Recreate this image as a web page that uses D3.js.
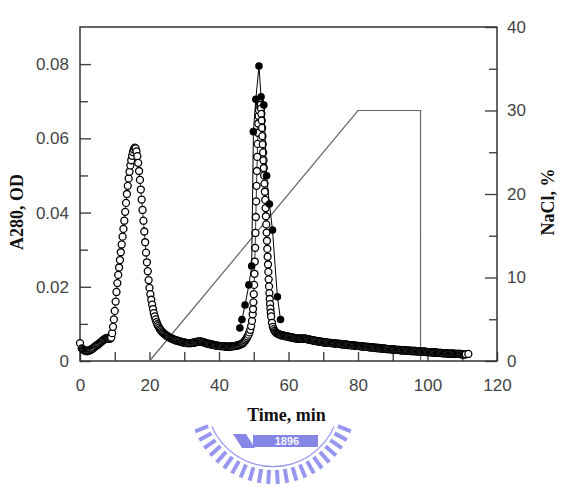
<!DOCTYPE html>
<html>
<head>
<meta charset="utf-8">
<script src="https://cdn.jsdelivr.net/npm/d3@7"></script>
<style>
  body { margin: 0; background: #fff; }
  svg { display: block; }
</style>
</head>
<body>
<div id="chart"></div>
<script>
// A280 trace (open circles), [time min, A280 OD]
const openPoints = [
  [0,.0048],[0.5,.0034],[0.75,.0032],[1,.0030],[1.25,.0029],[1.5,.0028],[1.75,.0027],[2,.0027],[2.25,.0027],[2.5,.0028],
  [2.75,.0029],[3,.0030],[3.25,.0031],[3.5,.0033],[3.75,.0034],[4,.0036],[4.25,.0038],[4.5,.0040],[4.75,.0042],[5,.0043],
  [5.25,.0045],[5.5,.0047],[5.75,.0049],[6,.0051],[6.25,.0053],[6.5,.0055],[6.75,.0057],[7,.0058],[7.25,.0060],[7.5,.0061],
  [7.75,.0062],[8,.0062],[8.25,.0061],[8.5,.0060],[8.75,.0061],[9,.0063],
  [9.25,.0075],[9.5,.0092],[9.75,.0112],[10,.0135],[10.25,.0160],[10.5,.0186],[10.75,.0210],[11,.0232],[11.25,.0252],
  [11.5,.0272],[11.75,.0293],[12,.0314],[12.25,.0335],[12.5,.0356],[12.75,.0378],[13,.0402],[13.25,.0426],[13.5,.0450],
  [13.75,.0472],[14,.0492],[14.25,.0510],[14.5,.0527],[14.75,.0541],[15,.0553],[15.25,.0563],[15.5,.0570],[15.75,.0575],
  [16,.0573],[16.25,.0565],[16.5,.0552],[16.75,.0534],[17,.0512],[17.25,.0488],[17.5,.0462],[17.75,.0435],[18,.0407],
  [18.25,.0378],[18.5,.0349],[18.75,.0320],[19,.0292],[19.25,.0266],[19.5,.0242],[19.75,.0218],[20,.0197],[20.25,.0180],
  [20.5,.0165],[20.75,.0152],[21,.0140],[21.25,.0129],[21.5,.0120],[21.75,.0112],[22,.0105],[22.25,.0099],[22.5,.0094],
  [22.75,.0090],[23,.0086],[23.25,.0083],[23.5,.0080],[23.75,.0077],[24,.0075],
  [24.25,.0073],[24.5,.0071],[24.75,.0069],[25,.0068],[25.25,.0066],[25.5,.0065],[25.75,.0063],[26,.0062],[26.25,.0061],
  [26.5,.0060],[26.75,.0059],[27,.0058],[27.25,.0057],[27.5,.0056],[27.75,.0055],[28,.0055],[28.25,.0054],[28.5,.0053],
  [28.75,.0053],[29,.0052],[29.25,.0051],[29.5,.0051],[29.75,.0050],[30,.0050],[30.25,.0049],[30.5,.0049],[30.75,.0048],
  [31,.0048],[31.25,.0048],[31.5,.0048],[31.75,.0048],[32,.0048],[32.25,.0049],[32.5,.0049],[32.75,.0050],[33,.0050],
  [33.25,.0051],[33.5,.0051],[33.75,.0052],[34,.0052],[34.25,.0053],[34.5,.0053],[34.75,.0052],[35,.0052],[35.25,.0051],
  [35.5,.0051],[35.75,.0050],[36,.0049],[36.25,.0048],[36.5,.0047],[36.75,.0047],[37,.0046],[37.25,.0046],[37.5,.0045],
  [37.75,.0045],[38,.0044],[38.25,.0044],[38.5,.0043],[38.75,.0043],[39,.0042],[39.25,.0042],[39.5,.0041],[39.75,.0041],
  [40,.0041],[40.25,.0040],[40.5,.0040],[40.75,.0040],[41,.0040],[41.25,.0040],[41.5,.0040],[41.75,.0039],[42,.0039],
  [42.25,.0039],[42.5,.0039],[42.75,.0039],[43,.0039],[43.25,.0039],[43.5,.0039],[43.75,.0040],[44,.0040],[44.25,.0040],
  [44.5,.0040],[44.75,.0041],[45,.0041],[45.25,.0042],[45.5,.0042],[45.75,.0043],[46,.0044],[46.25,.0045],[46.5,.0046],
  [46.75,.0047],[47,.0049],
  [47.25,.0052],[47.5,.0055],[47.75,.0058],[48,.0062],[48.25,.0066],[48.5,.0071],[48.75,.0077],[49,.0084],[49.25,.0094],
  [49.5,.0108],[49.7,.0126],[49.8,.0140],[49.9,.0158],[50,.0180],[50.1,.0205],[50.2,.0235],[50.3,.0268],[50.4,.0305],
  [50.5,.0345],[50.6,.0388],[50.7,.0430],[50.8,.0472],[50.9,.0512],[51,.0550],[51.1,.0585],[51.2,.0615],[51.3,.0640],
  [51.4,.0660],[51.5,.0676],[51.6,.0688],[51.7,.0695],[51.8,.0698],[51.9,.0696],[52,.0690],[52.1,.0680],[52.2,.0666],
  [52.3,.0648],[52.4,.0628],[52.5,.0606],[52.6,.0584],[52.7,.0562],[52.8,.0541],[52.9,.0520],[53,.0500],[53.1,.0478],
  [53.2,.0456],[53.3,.0434],[53.4,.0412],[53.5,.0390],[53.6,.0368],[53.7,.0346],[53.8,.0324],[53.9,.0302],[54,.0281],
  [54.1,.0260],[54.2,.0240],[54.3,.0220],[54.4,.0201],[54.5,.0183],[54.6,.0167],[54.7,.0153],[54.8,.0141],[54.9,.0130],
  [55,.0120],[55.25,.0103],[55.5,.0092],[55.75,.0086],[56,.0081],[56.25,.0078],[56.5,.0076],[56.75,.0074],[57,.0073],
  [57.25,.0072],[57.5,.0071],[57.75,.0070],[58,.0069],
  [58.25,.0069],[58.5,.0068],[58.75,.0068],[59,.0067],[59.25,.0067],[59.5,.0066],[59.75,.0066],[60,.0065],[60.25,.0065],
  [60.5,.0064],[60.75,.0064],[61,.0063],[61.25,.0063],[61.5,.0062],[61.75,.0062],[62,.0061],[62.25,.0061],[62.5,.0061],
  [62.75,.0060],[63,.0060],[63.25,.0060],[63.5,.0060],[63.75,.0060],[64,.0060],[64.25,.0060],[64.5,.0060],[64.75,.0060],
  [65,.0060],[65.25,.0059],[65.5,.0059],[65.75,.0058],[66,.0058],[66.25,.0057],[66.5,.0057],[66.75,.0056],[67,.0056],
  [67.25,.0055],[67.5,.0055],[67.75,.0054],[68,.0054],[68.25,.0053],[68.5,.0053],[68.75,.0053],[69,.0052],[69.25,.0052],
  [69.5,.0052],[69.75,.0051],[70,.0051],[70.25,.0050],[70.5,.0050],[70.75,.0050],[71,.0050],[71.25,.0049],[71.5,.0049],
  [71.75,.0049],[72,.0049],[72.25,.0048],[72.5,.0048],[72.75,.0048],[73,.0048],[73.25,.0047],[73.5,.0047],[73.75,.0047],
  [74,.0047],[74.25,.0046],[74.5,.0046],[74.75,.0046],[75,.0046],[75.25,.0045],[75.5,.0045],[75.75,.0045],[76,.0045],
  [76.25,.0044],[76.5,.0044],[76.75,.0044],[77,.0044],[77.25,.0043],[77.5,.0043],[77.75,.0043],[78,.0043],[78.25,.0042],
  [78.5,.0042],[78.75,.0042],[79,.0042],[79.25,.0041],[79.5,.0041],[79.75,.0041],[80,.0041],[80.25,.0040],[80.5,.0040],
  [80.75,.0040],[81,.0040],[81.25,.0039],[81.5,.0039],[81.75,.0039],[82,.0039],[82.25,.0038],[82.5,.0038],[82.75,.0038],
  [83,.0038],[83.25,.0037],[83.5,.0037],[83.75,.0037],[84,.0037],[84.25,.0036],[84.5,.0036],[84.75,.0036],[85,.0036],
  [85.25,.0035],[85.5,.0035],[85.75,.0035],[86,.0035],[86.25,.0034],[86.5,.0034],[86.75,.0034],[87,.0034],[87.25,.0033],
  [87.5,.0033],[87.75,.0033],[88,.0033],[88.25,.0032],[88.5,.0032],[88.75,.0032],[89,.0032],[89.25,.0032],[89.5,.0032],
  [89.75,.0031],[90,.0031],[90.25,.0031],[90.5,.0031],[90.75,.0030],[91,.0030],[91.25,.0030],[91.5,.0030],[91.75,.0030],
  [92,.0030],[92.25,.0029],[92.5,.0029],[92.75,.0029],[93,.0029],[93.25,.0029],[93.5,.0029],[93.75,.0028],[94,.0028],
  [94.25,.0028],[94.5,.0028],[94.75,.0028],[95,.0028],[95.25,.0027],[95.5,.0027],[95.75,.0027],[96,.0027],[96.25,.0027],
  [96.5,.0027],[96.75,.0026],[97,.0026],[97.25,.0026],[97.5,.0026],[97.75,.0026],[98,.0026],[98.25,.0025],[98.5,.0025],
  [98.75,.0025],[99,.0025],[99.25,.0025],[99.5,.0025],[99.75,.0024],[100,.0024],[100.25,.0024],[100.5,.0024],[100.75,.0024],
  [101,.0024],[101.25,.0023],[101.5,.0023],[101.75,.0023],[102,.0023],[102.25,.0023],[102.5,.0023],[102.75,.0022],
  [103,.0022],[103.25,.0022],[103.5,.0022],[103.75,.0022],[104,.0022],[104.25,.0021],[104.5,.0021],[104.75,.0021],
  [105,.0021],[105.25,.0021],[105.5,.0021],[105.75,.0020],[106,.0020],[106.25,.0020],[106.5,.0020],[106.75,.0020],
  [107,.0020],[107.25,.0020],[107.5,.0020],[107.75,.0019],[108,.0019],[108.25,.0019],[108.5,.0019],[108.75,.0019],
  [109,.0019],[109.25,.0019],[109.5,.0019],[109.75,.0018],[110,.0018],[110.25,.0018],[110.5,.0018],[110.75,.0018],
  [111,.0018],[111.75,.0019]
];

// second run (filled circles) over the second peak
const filledPoints = [
  [46.0,.0089],[46.6,.0112],[47.5,.0151],[48.6,.0205],[49.4,.0256],[49.9,.0618],[50.6,.0705],[51.5,.0795],
  [52.1,.0712],[52.9,.0690],[53.7,.0499],[54.5,.0423],[55.4,.0353],[56.8,.0173],[57.7,.0112]
];

// NaCl gradient, [time min, %]
const naclTime = [20, 80, 98, 98];
const naclPct = [0, 30, 30, 0];

const xTickValues = [0, 10, 20, 30, 40, 50, 60, 70, 80, 90, 100, 110, 120];
const xTickLabels = ["0", "", "20", "", "40", "", "60", "", "80", "", "100", "", "120"];
const leftTickValues = [0, 0.02, 0.04, 0.06, 0.08];
const leftTickLabels = ["0", "0.02", "0.04", "0.06", "0.08"];
const leftMinorValues = [0.01, 0.03, 0.05, 0.07];
const rightTickValues = [0, 10, 20, 30, 40];
const rightMinorValues = [5, 15, 25, 35];

const W = 567, H = 492;
const plot = { left: 80, right: 497, top: 27, bottom: 361 };

const svg = d3.select("#chart").append("svg")
    .attr("width", W)
    .attr("height", H);

const x = d3.scaleLinear().domain([0, 120]).range([plot.left, plot.right]);
const yL = d3.scaleLinear().domain([0, 0.09]).range([plot.bottom, plot.top]);
const yR = d3.scaleLinear().domain([0, 40]).range([plot.bottom, plot.top]);

const tickFont = "'Liberation Sans', Arial, sans-serif";
const titleFont = "'Liberation Serif', 'Times New Roman', serif";

// watermark logo (decoration under the x title)
const logo = svg.append("g").attr("transform", "translate(273,400)");
const logoColor = "#9797ef";
logo.append("path")
    .attr("d", d3.arc()({ innerRadius: 66, outerRadius: 67.2, startAngle: Math.PI * 0.63, endAngle: Math.PI * 1.37 }))
    .attr("fill", logoColor);
d3.range(22).forEach(i => {
    const a = (22 + i * (136 / 21)) * Math.PI / 180;
    logo.append("line")
        .attr("x1", 70 * Math.cos(a)).attr("y1", 70 * Math.sin(a))
        .attr("x2", 84 * Math.cos(a)).attr("y2", 84 * Math.sin(a))
        .attr("stroke", logoColor)
        .attr("stroke-width", 4);
});
logo.append("path")
    .attr("d", "M-40,34 L-27,34 L-18,48 L-31,48 Z")
    .attr("fill", "#8686e6");
logo.append("rect")
    .attr("x", -20).attr("y", 35).attr("width", 65).attr("height", 12)
    .attr("fill", "#8686e6");
logo.append("text")
    .attr("x", 14).attr("y", 45)
    .attr("text-anchor", "middle")
    .style("font-family", tickFont)
    .style("font-weight", "bold")
    .style("font-size", "11px")
    .style("fill", "#f4f4ff")
    .text("1896");

// axes
svg.append("g")
    .attr("transform", `translate(0,${plot.bottom})`)
    .call(d3.axisBottom(x).tickValues(xTickValues).tickSize(-9).tickPadding(18)
        .tickFormat((d, i) => xTickLabels[i]));

svg.append("g")
    .attr("transform", `translate(${plot.left},0)`)
    .call(d3.axisLeft(yL).tickValues(leftTickValues).tickSize(-11).tickPadding(11)
        .tickFormat((d, i) => leftTickLabels[i]));

svg.append("g")
    .attr("transform", `translate(${plot.left},0)`)
    .call(d3.axisLeft(yL).tickValues(leftMinorValues).tickSize(-8).tickFormat(""));

svg.append("g")
    .attr("transform", `translate(${plot.right},0)`)
    .call(d3.axisRight(yR).tickValues(rightTickValues).tickSize(-12).tickPadding(10));

svg.append("g")
    .attr("transform", `translate(${plot.right},0)`)
    .call(d3.axisRight(yR).tickValues(rightMinorValues).tickSize(-8).tickFormat(""));

svg.selectAll(".domain").remove();
svg.selectAll(".tick line").attr("stroke", "#444").attr("stroke-width", 1.4);
svg.selectAll(".tick text")
    .style("font-family", tickFont)
    .style("font-size", "17px")
    .style("fill", "#444");

// frame
svg.append("rect")
    .attr("x", plot.left).attr("y", plot.top)
    .attr("width", plot.right - plot.left)
    .attr("height", plot.bottom - plot.top)
    .attr("fill", "none")
    .attr("stroke", "#333")
    .attr("stroke-width", 1.5);

// NaCl gradient
const naclLine = d3.line().x((d, i) => x(naclTime[i])).y(d => yR(d));
svg.append("path")
    .datum(naclPct)
    .attr("d", naclLine)
    .attr("fill", "none")
    .attr("stroke", "#666")
    .attr("stroke-width", 1.2);

// open circles trace
const absLine = d3.line().x(d => x(d[0])).y(d => yL(d[1]));
svg.append("path")
    .datum(openPoints)
    .attr("d", absLine)
    .attr("fill", "none")
    .attr("stroke", "#000")
    .attr("stroke-width", 0.8);

svg.append("g")
    .selectAll("circle")
    .data(openPoints)
    .enter().append("circle")
    .attr("cx", d => x(d[0]))
    .attr("cy", d => yL(d[1]))
    .attr("r", 3.5)
    .attr("fill", "#fff")
    .attr("stroke", "#000")
    .attr("stroke-width", 1.3);

// filled circles trace
svg.append("path")
    .datum(filledPoints)
    .attr("d", absLine)
    .attr("fill", "none")
    .attr("stroke", "#000")
    .attr("stroke-width", 1);

svg.append("g")
    .selectAll("circle")
    .data(filledPoints)
    .enter().append("circle")
    .attr("cx", d => x(d[0]))
    .attr("cy", d => yL(d[1]))
    .attr("r", 3.8)
    .attr("fill", "#000");

// axis titles
svg.append("text")
    .attr("x", (plot.left + plot.right) / 2 - 2)
    .attr("y", 421)
    .attr("text-anchor", "middle")
    .style("font-family", titleFont)
    .style("font-weight", "bold")
    .style("font-size", "18px")
    .style("fill", "#111")
    .text("Time, min");

svg.append("text")
    .attr("transform", "translate(23,212) rotate(-90)")
    .attr("text-anchor", "middle")
    .style("font-family", titleFont)
    .style("font-weight", "bold")
    .style("font-size", "18px")
    .style("fill", "#111")
    .text("A280, OD");

svg.append("text")
    .attr("transform", "translate(554,202) rotate(-90)")
    .attr("text-anchor", "middle")
    .style("font-family", titleFont)
    .style("font-weight", "bold")
    .style("font-size", "18px")
    .style("fill", "#111")
    .text("NaCl, %");
</script>
</body>
</html>
